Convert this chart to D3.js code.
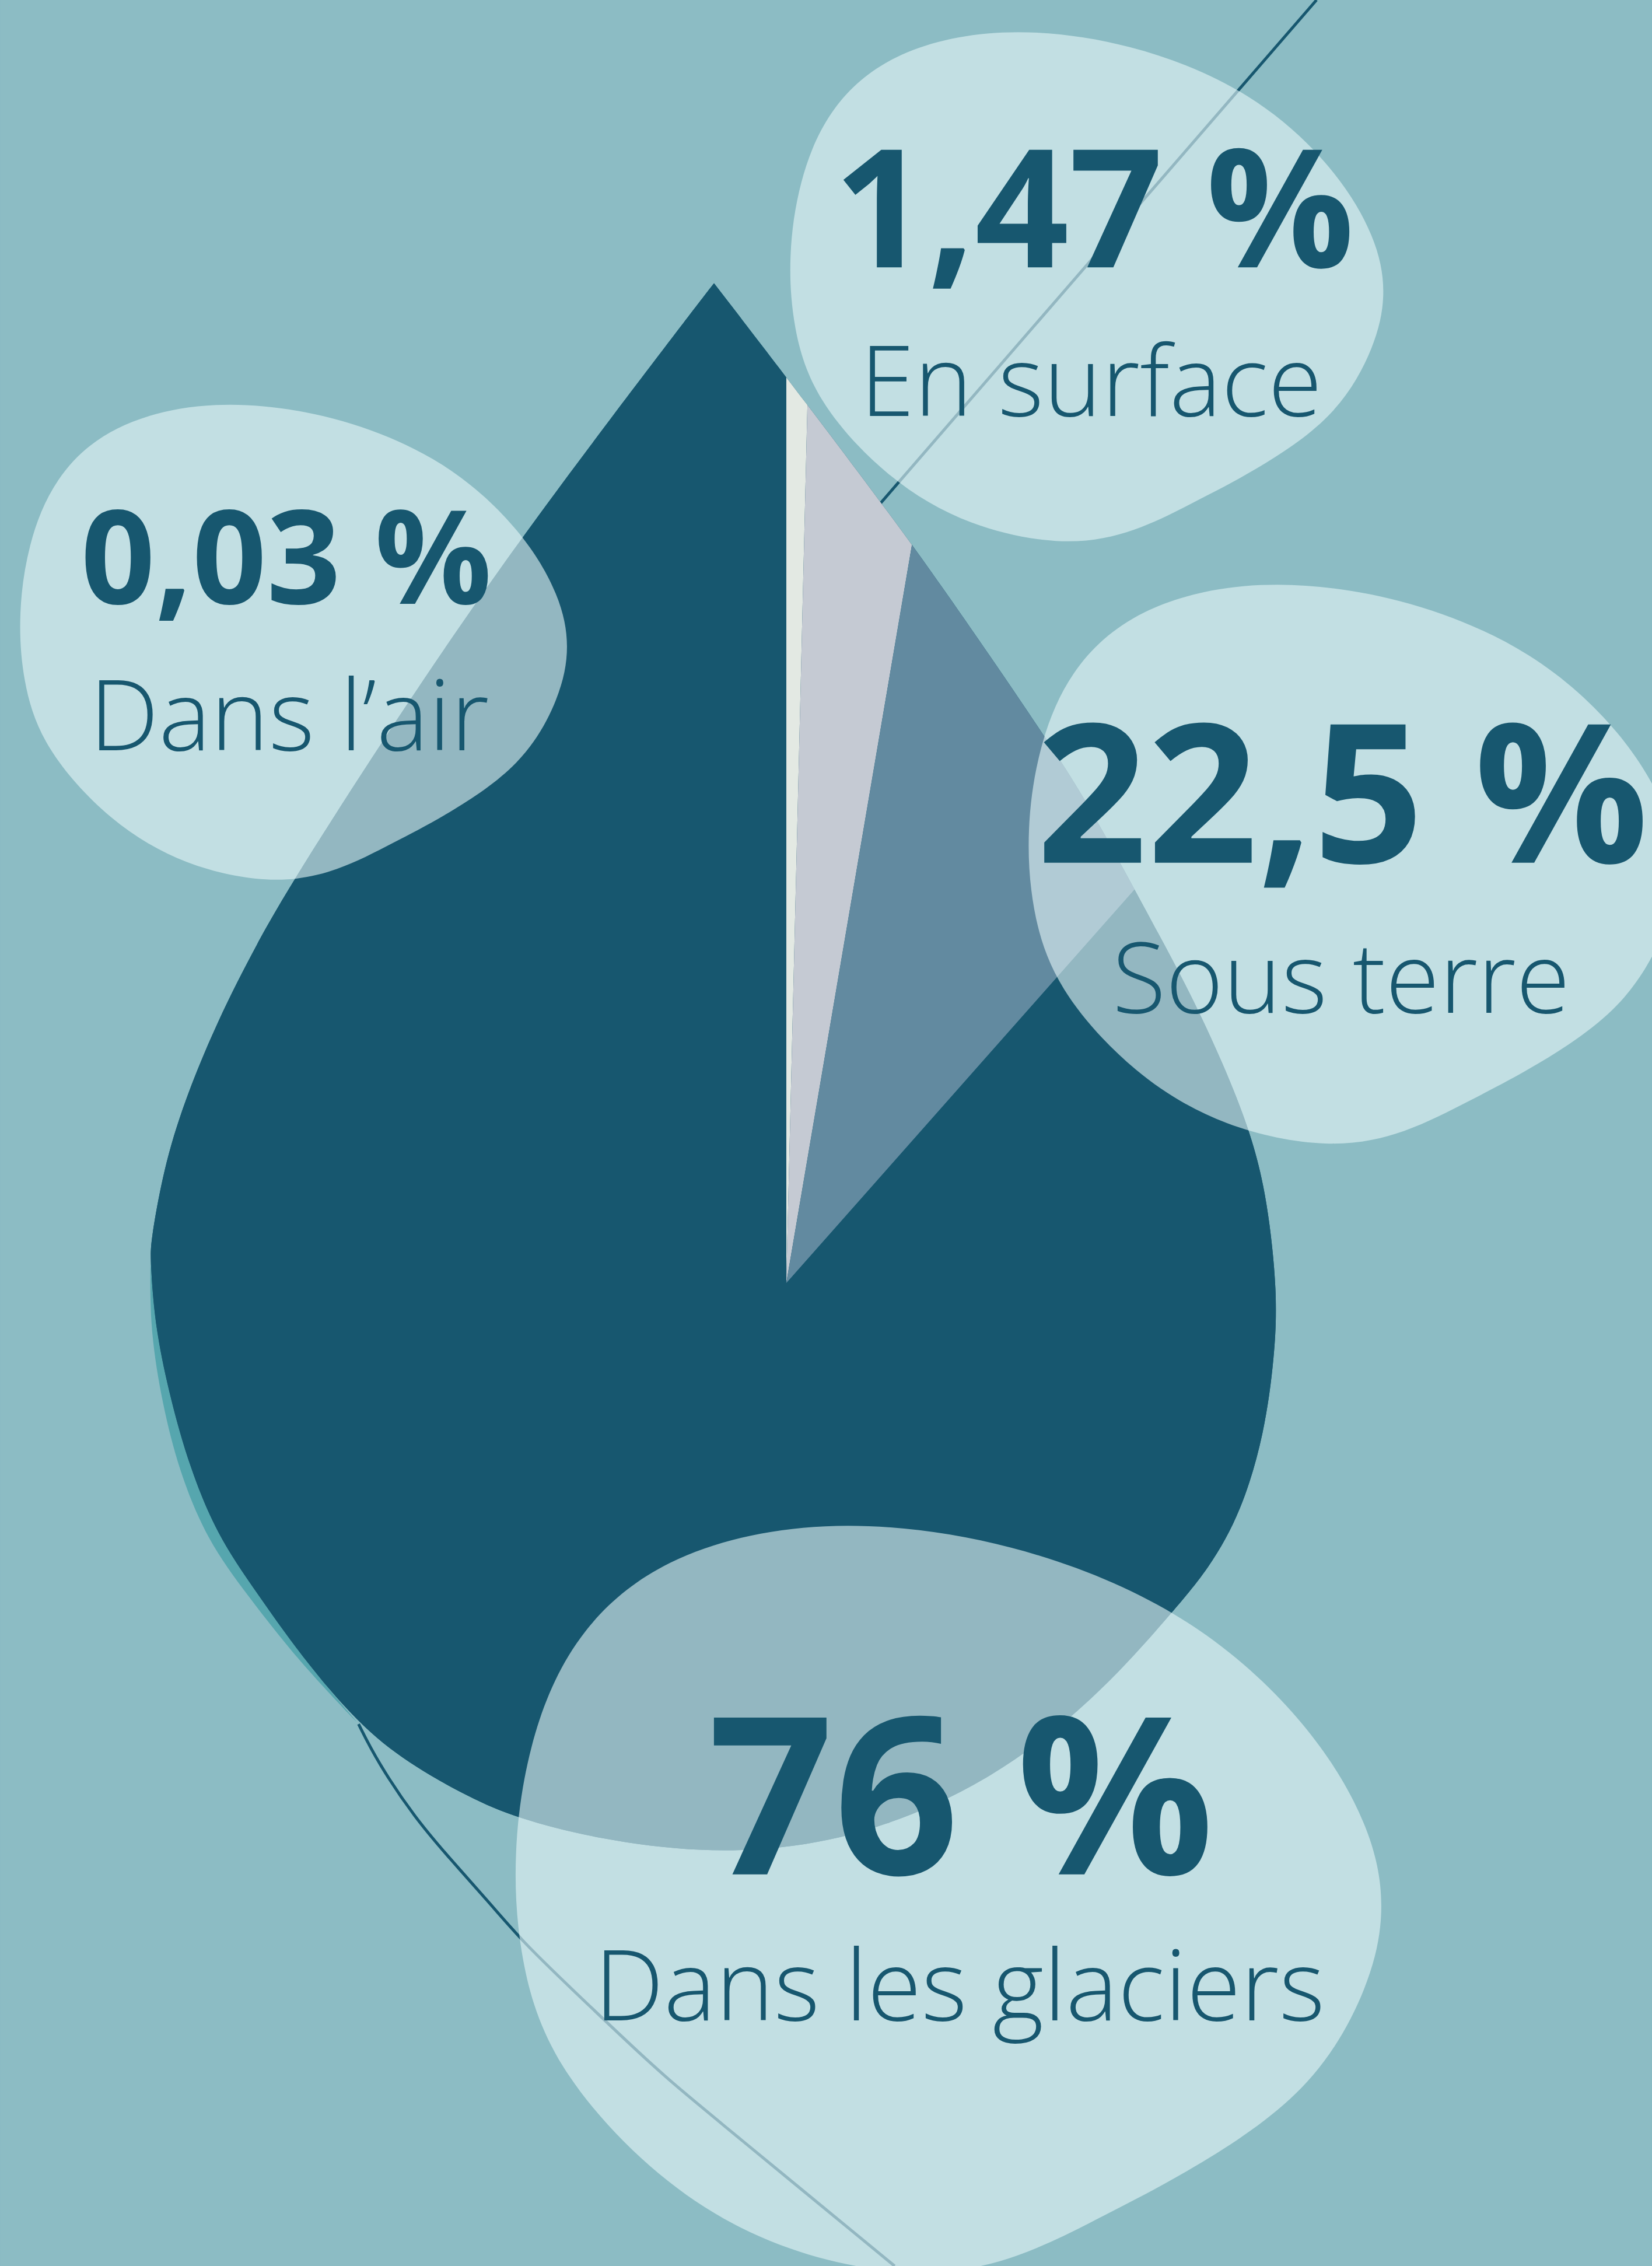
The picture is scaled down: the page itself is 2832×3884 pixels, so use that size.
<!DOCTYPE html>
<html>
<head>
<meta charset="utf-8" />
<title>L’eau douce sur Terre</title>
<script src="https://d3js.org/d3.v7.min.js"></script>
<style>
  html, body { margin: 0; padding: 0; background: #8cbcc4; }
  svg { display: block; }
</style>
</head>
<body>
<svg id="chart"></svg>

<script>
// --- data ---
const categories = ["Dans l’air", "En surface", "Sous terre", "Dans les glaciers"];
const shares = [0.03, 1.47, 22.5, 76];

// the slices are not drawn to scale in the original, so cumulative share
// is mapped to an angle (degrees) measured from the slice edges
const cumulativeStops = [0, 0.03, 1.5, 24, 100];
const angleStops = [0, 1.38, 9.66, 41.5, 360];

// --- look ---
const bg = "#8cbcc4";
const dark = "#17576f";
const sliceColors = ["#e3e9e3", "#c5cad3", "#628aa0", dark];
const teal = "#56a6ae";

// drawing units: the page is 2832 x 3884, drawn in a 1143 x 1568 box
const W = 1143, H = 1568;
const center = [544, 888];

// drop outline, clockwise from the tip
const dropOutline = [[494,196],[558,279],[621,363],[649,402],[692,464],[721,507],[750,551],
  [781,608],[801,645],[823,686],[846,735],[866,785],[877,830],[884,895],[882,938],[875,992],
  [859,1046],[837,1085],[810,1117],[758,1176],[686,1232],[611,1265],[550,1279],[485,1282],
  [415,1273],[357,1258],[325,1244],[282,1220],[248,1193],[209,1147],[176,1100],[150,1062],
  [131,1015],[118,969],[107,918],[104,872],[104,860],[113,809],[127,763],[150,707],[178,652],
  [204,607],[279,490],[362,369],[483,210],[494,196]];

// blob shape for the labels, in a unit box
const blob = [[0.350,-0.004],[0.574,0.027],[0.780,0.124],[0.918,0.272],[0.986,0.406],[1.004,0.510],
  [0.986,0.615],[0.918,0.756],[0.778,0.860],[0.68,0.917],[0.581,0.976],[0.465,1.004],[0.300,0.966],
  [0.162,0.873],[0.040,0.719],[0.003,0.580],[-0.004,0.441],[0.013,0.300],[0.060,0.160],[0.164,0.048]];

// per category: bubble box [x,y,w,h], value text [x, baseline, size], label [x, baseline]
const bubbleBoxes = [[14,277,379,334],[547,19,411,358],[712,401,449,393],[357,1051,600,525]];
const valueText = [[198,418,90],[757,185,114],[929,597,134],[665,1297,152]];
const labelText = [[200,519],[755,288],[928,701],[664,1398]];

const topLine = [[911,0],[560,405]];
const bottomLine = [[248,1193],[261,1219],[287,1258],[312,1287],[338,1316],[362,1344],
  [391,1372],[454,1432],[484,1457],[619,1568]];

const svg = d3.select("#chart")
  .attr("width", 2832)
  .attr("height", 3884)
  .attr("viewBox", `0 0 ${W} ${H}`);

svg.append("rect").attr("width", W).attr("height", H).attr("fill", bg);

const smooth = d3.line().curve(d3.curveBasis);

// thin decorative lines (under the drop and the bubbles)
svg.append("path")
  .attr("d", d3.line()(topLine))
  .attr("fill", "none").attr("stroke", dark).attr("stroke-width", 2);
svg.append("path")
  .attr("d", smooth(bottomLine))
  .attr("fill", "none").attr("stroke", dark).attr("stroke-width", 2);

// teal shadow on the lower left of the drop
const i0 = dropOutline.findIndex(p => p[0] === 248 && p[1] === 1193);
const i1 = dropOutline.findIndex(p => p[0] === 104 && p[1] === 872);
const inner = dropOutline.slice(i0, i1 + 1).reverse();
const outer = inner.map((p, i) => {
  const a = inner[Math.max(i - 1, 0)], b = inner[Math.min(i + 1, inner.length - 1)];
  const dx = b[0] - a[0], dy = b[1] - a[1], len = Math.hypot(dx, dy);
  const off = 8 * Math.sin(Math.PI * i / (inner.length - 1));
  return [p[0] - dy / len * off, p[1] + dx / len * off];
});
svg.append("path")
  .attr("d", smooth(inner.concat(outer.slice().reverse())) + "Z")
  .attr("fill", teal);

// the drop
const dropPath = smooth(dropOutline) + "Z";
svg.append("clipPath").attr("id", "drop-clip").append("path").attr("d", dropPath);
svg.append("path").attr("d", dropPath).attr("fill", dark);

// slices
const angle = d3.scaleLinear()
  .domain(cumulativeStops)
  .range(angleStops.map(a => a * Math.PI / 180))
  .clamp(true);
const ends = Array.from(d3.cumsum(shares));
const slices = shares.map((v, i) => ({
  category: categories[i],
  startAngle: angle(ends[i] - v),
  endAngle: angle(ends[i])
}));

const arc = d3.arc().innerRadius(0).outerRadius(1500);

svg.append("g")
  .attr("clip-path", "url(#drop-clip)")
  .append("g")
  .attr("transform", `translate(${center[0]},${center[1]})`)
  .selectAll("path")
  .data(slices)
  .join("path")
  .attr("d", arc)
  .attr("fill", (d, i) => sliceColors[i]);

// label bubbles
const blobLine = d3.line().curve(d3.curveBasisClosed);
svg.append("g")
  .selectAll("path")
  .data(bubbleBoxes)
  .join("path")
  .attr("d", b => blobLine(blob.map(p => [b[0] + p[0] * b[2], b[1] + p[1] * b[3]])))
  .attr("fill", "#e6f7f9")
  .attr("fill-opacity", 0.6);

// texts
const fr = d3.formatLocale({ decimal: ",", thousands: "\u00a0", grouping: [3], currency: ["", " €"] });
const pct = v => fr.format("~r")(v) + " %";

const texts = svg.append("g")
  .attr("font-family", "'Open Sans', 'Noto Sans', sans-serif")
  .attr("fill", dark)
  .attr("text-anchor", "middle");

texts.selectAll("text.value")
  .data(shares)
  .join("text")
  .attr("class", "value")
  .attr("x", (d, i) => valueText[i][0])
  .attr("y", (d, i) => valueText[i][1])
  .attr("font-size", (d, i) => valueText[i][2])
  .attr("font-weight", 700)
  .text(d => pct(d));

texts.selectAll("text.label")
  .data(categories)
  .join("text")
  .attr("class", "label")
  .attr("x", (d, i) => labelText[i][0])
  .attr("y", (d, i) => labelText[i][1])
  .attr("font-size", 68)
  .attr("font-weight", 300)
  .text(d => d);
</script>
</body>
</html>
